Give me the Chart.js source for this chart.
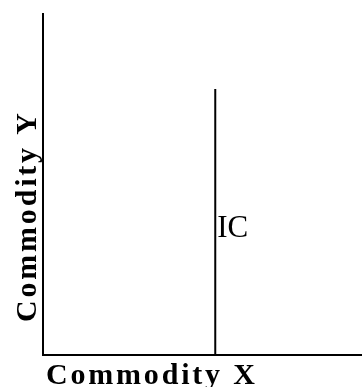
<!DOCTYPE html>
<html>
<head>
<meta charset="utf-8">
<script src="https://cdn.jsdelivr.net/npm/chart.js@4.4.1/dist/chart.umd.min.js"></script>
<style>
  html, body { margin: 0; padding: 0; background: #fff; }
  #wrap { width: 362px; height: 387px; position: relative; }
</style>
</head>
<body>
<div id="wrap"><canvas id="grafico"></canvas></div>
<script>
// curva de indiferenca vertical (IC)
const icX = [5.4, 5.4];
const icY = [0, 7.8];
const icLabel = "IC";
const icLabelY = 3.7;

const tituloX = "Commodity X";
const tituloY = "Commodity Y";

const eixoMax = 10;

const pontos = icX.map((x, i) => ({ x: x, y: icY[i] }));

const fonteTitulo = "bold 30px 'Liberation Serif', 'Times New Roman', serif";
const fonteLabel = "31px 'Liberation Serif', 'Times New Roman', serif";

const textosPlugin = {
  id: "textos",
  afterDraw(chart) {
    const ctx = chart.ctx;
    const area = chart.chartArea;
    const sx = chart.scales.x;
    const sy = chart.scales.y;

    ctx.save();
    ctx.fillStyle = "#000";

    // rotulo IC ao lado da linha
    ctx.font = fonteLabel;
    ctx.textAlign = "left";
    ctx.textBaseline = "middle";
    ctx.fillText(icLabel, sx.getPixelForValue(icX[0]) + 2, sy.getPixelForValue(icLabelY));

    // titulo do eixo x
    ctx.font = fonteTitulo;
    ctx.letterSpacing = "2.8px";
    ctx.textBaseline = "alphabetic";
    ctx.fillText(tituloX, area.left + 3, 384);

    // titulo do eixo y
    ctx.translate(36, 322);
    ctx.rotate(-Math.PI / 2);
    ctx.fillText(tituloY, 0, 0);
    ctx.restore();
  },
};

const grafico = new Chart(document.getElementById("grafico"), {
  type: "line",
  data: {
    datasets: [
      {
        label: icLabel,
        data: pontos,
        borderColor: "#000",
        borderWidth: 2,
        pointRadius: 0,
        tension: 0,
        fill: false,
      },
    ],
  },
  options: {
    responsive: true,
    maintainAspectRatio: false,
    animation: false,
    layout: {
      padding: { left: 43, top: 14, right: 0, bottom: 32 },
    },
    plugins: {
      legend: { display: false },
      tooltip: { enabled: false },
    },
    scales: {
      x: {
        type: "linear",
        min: 0,
        max: eixoMax,
        grid: { display: false },
        border: { display: true, color: "#000", width: 2 },
        ticks: { display: false },
        afterFit: (s) => { s.height = 0; },
      },
      y: {
        type: "linear",
        min: 0,
        max: eixoMax,
        grid: { display: false },
        border: { display: true, color: "#000", width: 2 },
        ticks: { display: false },
        afterFit: (s) => { s.width = 0; },
      },
    },
  },
  plugins: [textosPlugin],
});
</script>
</body>
</html>
